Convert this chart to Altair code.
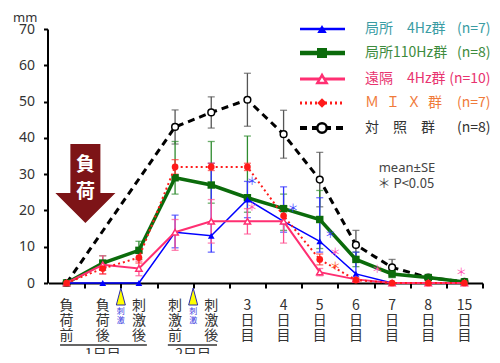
import altair as alt
import pandas as pd

# ---------------- data ----------------
cat_labels = ["負\n荷\n前", "負\n荷\n後", "刺\n激\n後", "刺\n激\n前", "刺\n激\n後",
              "3\n日\n目", "4\n日\n目", "5\n日\n目", "6\n日\n目", "7\n日\n目", "8\n日\n目", "15\n日\n目"]
cat_pos = list(range(12))

series_names = ["局所4Hz", "局所110Hz", "遠隔4Hz", "MIX", "対照"]
legend_labels = ["局所　4Hz群", "局所110Hz群", "遠隔　4Hz群", "Ｍ\u2002Ｉ\u2002Ｘ\u2002群", "対　照　群"]
legend_n = ["(n=7)", "(n=8)", "(n=10)", "(n=7)", "(n=8)"]

local4_mean = [0, 0, 0, 14, 13, 23, 17, 11.5, 2.5, 0, 0, 0]
local4_up   = [0, 0, 0, 4.7, 20, 5, 9.5, 12, 6, 0, 0, 0]
local4_dn   = [0, 0, 0, 4.3, 4.5, 5, 3, 3, 2, 0, 0, 0]

local110_mean = [0, 5.5, 9, 29, 27, 23.5, 20.5, 17.5, 6.5, 2.5, 1.5, 0.3]
local110_up   = [0, 2, 2.5, 10, 12, 17, 4, 8, 2, 1, 0.5, 0.2]
local110_dn   = [0, 2, 2.5, 4.5, 5, 4, 6, 8, 2, 1, 0.5, 0.2]

remote4_mean = [0, 5, 4, 14, 17, 17, 17, 3, 1, 0, 0, 0]
remote4_up   = [0, 2.5, 2, 3.5, 6, 3.5, 3, 1, 0.5, 0, 0, 0]
remote4_dn   = [0, 2.5, 2, 5, 6, 3.5, 6, 1, 0.5, 0, 0, 0]

mix_mean = [0, 4, 7, 32, 32, 32, 18.5, 6.5, 0.8, 0, 0, 0]
mix_up   = [0, 1.5, 1.5, 2, 1, 1, 2, 1.5, 0.5, 0, 0, 0]
mix_dn   = [0, 1.5, 1.5, 2, 1, 1, 2, 1.5, 0.5, 0, 0, 0]

control_mean = [0, None, None, 43, 47, 50.5, 41, 28.5, 10.5, 4.3, 1.5, 0.3]
control_up   = [0, None, None, 4.7, 4.3, 7.3, 6.6, 7.5, 4, 2.2, 0.5, 0.3]
control_dn   = [0, None, None, 4.7, 4.3, 7.3, 6.6, 7.5, 4, 2.2, 0.5, 0.3]

star_x = [5.13, 5.13, 6.26, 7.29, 7.43, 7.43, 8.59, 10.91]
star_y = [27.9, 20.7, 20.4, 13.2, 8.3, 4.4, 3.6, 2.8]
star_series = ["局所4Hz", "遠隔4Hz", "局所4Hz", "局所4Hz", "遠隔4Hz", "MIX", "遠隔4Hz", "遠隔4Hz"]

stim_pos = [1.5, 3.5]
day_labels = ["1日目", "2日目"]
day_start = [-0.18, 2.8]
day_end = [2.22, 4.16]
day_center = [1.0, 3.5]

arrow_x, arrow_y = 0.52, 27.4
arrow_text = ["負", "荷"]
arrow_text_y = [32.6, 25.1]

# ---------------- styles ----------------
JP = "Noto Sans CJK JP"
xs = alt.Scale(domain=[-0.5, 11.5], nice=False, zero=False)
ys = alt.Scale(domain=[0, 70], nice=False)
xax = alt.Axis(values=[i + 0.5 for i in range(12)], labels=False, title=None, grid=False,
               tickSize=5, tickWidth=2, tickColor="black", domainColor="black", domainWidth=2)
yax = alt.Axis(values=list(range(0, 71, 10)), grid=False, title="mm", titleAngle=0,
               titleX=-35, titleY=-12, titleAlign="left", titleBaseline="middle",
               titleFontWeight="normal", titleFontSize=13, titleFont="Noto Sans", titleColor="#333",
               labelFont="Noto Sans", labelFontSize=14, labelColor="#333", labelPadding=9,
               tickSize=4, tickWidth=2, tickColor="black", domainColor="black", domainWidth=2,
               offset=1)


def X(f):
    return alt.X(f, type="quantitative", scale=xs, axis=xax)


def Y(f):
    return alt.Y(f, type="quantitative", scale=ys, axis=yax)


styles = {
    "局所4Hz":  dict(color="#0000ff", ebar="#3333ff", width=1.5, dash=None, shape="triangle-up", fill="#0000ff", size=45),
    "局所110Hz": dict(color="#0b6b0b", ebar="#2e8b2e", width=3.5, dash=None, shape="square", fill="#0b6b0b", size=55),
    "遠隔4Hz":  dict(color="#ff2f72", ebar="#ff5090", width=2, dash=None, shape="triangle-up", fill="white", size=40),
    "MIX":      dict(color="#ff1a1a", ebar="#ff3030", width=2, dash=[2, 3], shape="circle", fill="#ff1a1a", size=45),
    "対照":      dict(color="#000000", ebar="#555555", width=3, dash=[7, 5], shape="circle", fill="white", size=45),
}
legend_text_colors = ["#3a9ca3", "#3d8b3d", "#e8336f", "#f07a3a", "#333333"]
legend_shapes = ["triangle-up", "square", "triangle-up", "diamond", "circle"]
legend_y = [0, 24, 50, 74, 99]

data_map = {
    "局所4Hz": (local4_mean, local4_up, local4_dn),
    "局所110Hz": (local110_mean, local110_up, local110_dn),
    "遠隔4Hz": (remote4_mean, remote4_up, remote4_dn),
    "MIX": (mix_mean, mix_up, mix_dn),
    "対照": (control_mean, control_up, control_dn),
}


def frame(name):
    m, u, d = data_map[name]
    rows = []
    for p, mv, uv, dv in zip(cat_pos, m, u, d):
        if mv is None:
            continue
        rows.append({"pos": p, "mean": mv, "hi": mv + uv, "lo": mv - dv})
    return pd.DataFrame(rows)


error_layers = []
line_layers = []
draw_order = ["対照", "局所110Hz", "局所4Hz", "遠隔4Hz", "MIX"]
for name in draw_order:
    st = styles[name]
    df = frame(name)
    edf = df[df["hi"] > df["lo"]]
    base_e = alt.Chart(edf)
    error_layers.append(base_e.mark_rule(color=st["ebar"], strokeWidth=1.3).encode(x=X("pos"), y=Y("lo"), y2="hi"))
    for f in ["lo", "hi"]:
        error_layers.append(base_e.mark_tick(color=st["ebar"], orient="horizontal", size=7, thickness=1.3)
                            .encode(x=X("pos"), y=Y(f)))
    lk = dict(color=st["color"], strokeWidth=st["width"])
    if st["dash"]:
        lk["strokeDash"] = st["dash"]
    base = alt.Chart(df)
    line_layers.append(base.mark_line(**lk).encode(x=X("pos"), y=Y("mean")))
    pk = dict(shape=st["shape"], size=st["size"], filled=True, fill=st["fill"], opacity=1)
    if st["fill"] == "white":
        pk.update(stroke=st["color"], strokeWidth=1.5)
    else:
        pk.update(strokeWidth=0)
    line_layers.append(base.mark_point(**pk).encode(x=X("pos"), y=Y("mean")))

# legend
legend_layers = []
for i, name in enumerate(series_names):
    st = styles[name]
    ly = legend_y[i]
    lk = dict(color=st["color"], strokeWidth=st["width"] + 1)
    if st["dash"]:
        lk["strokeDash"] = st["dash"]
    one = pd.DataFrame({"k": [0]})
    legend_layers.append(alt.Chart(one).mark_rule(**lk).encode(
        x=alt.value(251.5), x2=alt.value(296.5), y=alt.value(ly)))
    pk = dict(shape=legend_shapes[i], size=st["size"] + 45, filled=True, fill=st["fill"], opacity=1)
    if st["fill"] == "white":
        pk.update(stroke=st["color"], strokeWidth=2.5)
    else:
        pk.update(strokeWidth=0)
    legend_layers.append(alt.Chart(one).mark_point(**pk).encode(x=alt.value(273.5), y=alt.value(ly)))
    legend_layers.append(alt.Chart(pd.DataFrame({"t": [legend_labels[i]]})).mark_text(
        font=JP, fontSize=14, color=legend_text_colors[i], align="left", baseline="middle").encode(
        x=alt.value(316.5), y=alt.value(ly), text="t:N"))
    legend_layers.append(alt.Chart(pd.DataFrame({"t": [legend_n[i]]})).mark_text(
        font=JP, fontSize=14, color=legend_text_colors[i], align="right", baseline="middle").encode(
        x=alt.value(442), y=alt.value(ly), text="t:N"))

notes = [
    alt.Chart(pd.DataFrame({"t": ["mean±SE"]})).mark_text(font="Noto Sans", fontSize=13, color="#444",
                                                          align="center", baseline="middle").encode(
        x=alt.value(358.5), y=alt.value(139), text="t:N"),
    alt.Chart(pd.DataFrame({"t": ["＊ P<0.05"]})).mark_text(font=JP, fontSize=13, color="#444",
                                                           align="left", baseline="middle").encode(
        x=alt.value(329), y=alt.value(155), text="t:N"),
]

# stars
star_df = pd.DataFrame({"x": star_x, "y": star_y, "s": star_series, "t": ["＊"] * len(star_x)})
stars = alt.Chart(star_df).mark_text(font=JP, fontSize=11, baseline="middle", align="center").encode(
    x=X("x"), y=Y("y"), text="t:N",
    color=alt.Color("s:N", scale=alt.Scale(domain=["局所4Hz", "遠隔4Hz", "MIX"],
                                           range=["#3a3aff", "#ff50b0", "#ff5020"]), legend=None))

# big arrow 負荷
arrow_df = pd.DataFrame({"x": [arrow_x], "y": [arrow_y]})
arrow_path = "M-0.38,-1 L0.38,-1 L0.38,0.24 L0.76,0.24 L0,1 L-0.76,0.24 L-0.38,0.24 Z"
arrow = alt.Chart(arrow_df).mark_point(shape=arrow_path, size=6241, filled=True, fill="#7d1417",
                                        opacity=1, strokeWidth=0).encode(x=X("x"), y=Y("y"))
arrow_txt = alt.Chart(pd.DataFrame({"x": [arrow_x] * 2, "y": arrow_text_y, "t": arrow_text})).mark_text(
    font=JP, fontSize=19, fontWeight="bold", color="white", baseline="middle").encode(
    x=X("x"), y=Y("y"), text="t:N")

# category labels
cat_df = pd.DataFrame({"pos": cat_pos, "t": cat_labels})
cats = alt.Chart(cat_df).mark_text(font=JP, fontSize=14, color="#333", baseline="top", lineBreak="\n",
                                   lineHeight=15).encode(x=X("pos"), y=alt.value(270), text="t:N")

stim_df = pd.DataFrame({"pos": stim_pos, "t": ["刺\n激"] * len(stim_pos)})
tri_path = "M0,-1 L0.53,1 L-0.53,1 Z"
stim_tri = alt.Chart(stim_df).mark_point(shape=tri_path, size=289, filled=True, fill="#ffff00",
                                         stroke="#2828b0", strokeWidth=1, opacity=1).encode(
    x=X("pos"), y=alt.value(267.5))
stim_txt = alt.Chart(stim_df).mark_text(font=JP, fontSize=8, color="#3a3ae0", baseline="top",
                                        lineBreak="\n", lineHeight=9).encode(
    x=X("pos"), y=alt.value(279), text="t:N")

day_df = pd.DataFrame({"s": day_start, "e": day_end, "c": day_center, "t": day_labels})
day_rules = alt.Chart(day_df).mark_rule(color="#333", strokeWidth=1.5).encode(
    x=X("s"), x2="e", y=alt.value(316))
day_txt = alt.Chart(day_df).mark_text(font=JP, fontSize=14, color="#333", baseline="top").encode(
    x=X("c"), y=alt.value(319), text="t:N")

chart = alt.layer(
    arrow, arrow_txt, *error_layers, *line_layers, stars, *legend_layers, *notes,
    cats, stim_tri, stim_txt, day_rules, day_txt
).properties(
    width=434, height=254,
    autosize=alt.AutoSizeParams(type="none"),
    padding={"left": 40.5, "top": 21, "right": 9, "bottom": 71},
).configure_view(stroke=None)

chart.save("out.html", embed_options={"renderer": "svg", "actions": False})
